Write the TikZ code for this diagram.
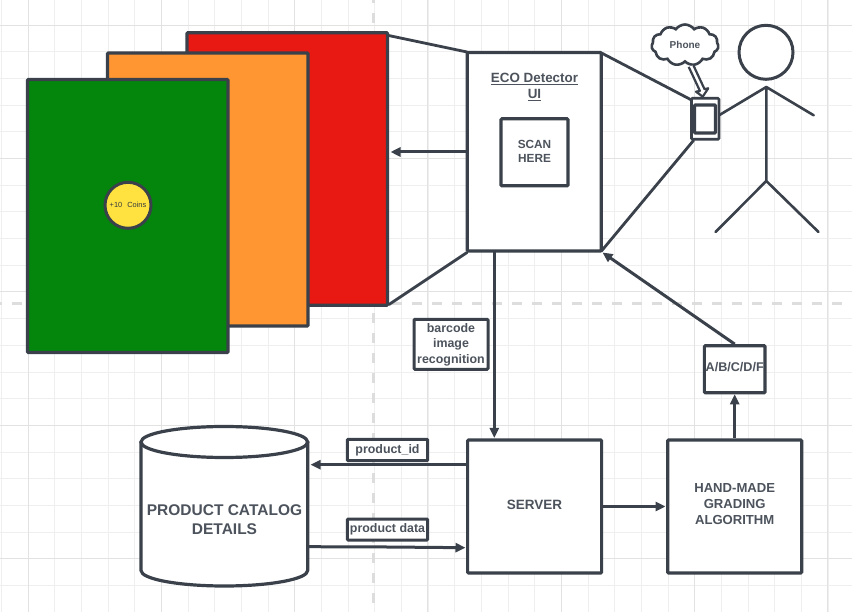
\documentclass[tikz,border=0pt]{standalone}
\usepackage{fontspec}
\setmainfont{Liberation Sans}
\usetikzlibrary{arrows.meta,shapes.symbols}
\definecolor{ink}{HTML}{3A414A}
\definecolor{txt}{HTML}{4C535C}
\definecolor{gridminor}{HTML}{EFEFEF}
\definecolor{gridmajor}{HTML}{E2E2E2}
\definecolor{dashc}{HTML}{DDDDDD}
\definecolor{redc}{HTML}{E81813}
\definecolor{orangec}{HTML}{FF9631}
\definecolor{greenc}{HTML}{04860D}
\definecolor{yellowc}{HTML}{FFE23F}
\newcommand{\fs}[2]{\fontsize{#1}{#2}\selectfont\bfseries}
\tikzset{
  x=1pt,y=-1pt,
  outl/.style={draw=ink,line width=3.2pt,rounded corners=1pt,inner sep=0pt,align=center,text=txt},
  box/.style={outl,fill=white},
  lab/.style={outl,fill=white,line width=3pt},
  card/.style={outl},
  words/.style={inner sep=0pt,text=txt,align=center},
  flow/.style={draw=ink,line width=3pt,-{Triangle[length=10pt,width=9pt]}},
  wire/.style={draw=ink,line width=2.8pt,line cap=round},
  limb/.style={draw=ink,line width=2.6pt,line cap=round},
}
\begin{document}
\begin{tikzpicture}
\useasboundingbox (0,0) rectangle (852,612);
\fill[white] (0,0) rectangle (852,612);
% grid
\foreach \k in {-1,...,32} {
  \pgfmathsetmacro\gx{28+26.67*\k}
  \draw[gridminor,line width=1pt] (\gx,0) -- (\gx,612);
}
\foreach \k in {-1,...,23} {
  \pgfmathsetmacro\gy{25.3+26.67*\k}
  \draw[gridminor,line width=1pt] (0,\gy) -- (852,\gy);
}
\foreach \k in {0,...,6} {
  \pgfmathsetmacro\gx{28+133.33*\k}
  \draw[gridmajor,line width=1pt] (\gx,0) -- (\gx,612);
}
\foreach \k in {0,...,4} {
  \pgfmathsetmacro\gy{25.3+133.33*\k}
  \draw[gridmajor,line width=1pt] (0,\gy) -- (852,\gy);
}
\draw[dashc,line width=3pt,dash pattern=on 10pt off 10pt,dash phase=8.4pt] (0,303.5) -- (852,303.5);
\draw[dashc,line width=3pt,dash pattern=on 10pt off 10pt,dash phase=7pt] (373.5,0) -- (373.5,612);
% cards
\node[card,fill=redc,minimum width=200.5pt,minimum height=272.5pt] (red) at (287.25,169) {};
\node[card,fill=orangec,minimum width=200.5pt,minimum height=273pt] (orange) at (207.75,189.5) {};
\node[card,fill=greenc,minimum width=200.5pt,minimum height=273pt] (green) at (127.75,216) {};
\node[draw=ink,line width=3pt,fill=yellowc,circle,minimum size=46pt,inner sep=0pt,text=ink!85!black,font=\fontsize{7.4}{8}\selectfont] (coin) at (128,205.3)
  {+10\hspace{3pt} Coins};
% boxes
\node[box,minimum width=134pt,minimum height=198.5pt] (eco) at (534.3,151.7) {};
\node[words,font=\fs{13.4}{15.5}] (ecotitle) at (534.5,87)
  {\underline{ECO Detector}\\\underline{UI}};
\node[box,minimum width=67pt,minimum height=67pt] (scan) at (534.5,152.3) {};
\node[words,font=\fs{11.8}{14.5}] (scantext) at (534.5,151.3) {SCAN\\HERE};
\node[box,minimum width=134pt,minimum height=133pt] (server) at (534.6,506.5) {};
\node[words,font=\fs{13.5}{16}] (servertext) at (534.6,505) {SERVER};
\node[box,minimum width=134pt,minimum height=133pt] (algo) at (734.7,506.5) {};
\node[words,font=\fs{13.1}{16}] (algotext) at (734.7,504.3) {HAND-MADE\\GRADING\\ALGORITHM};
\node[box,minimum width=60.7pt,minimum height=47pt] (grade) at (734.7,369.2) {};
\node[words,font=\fs{12.6}{15}] (gradetext) at (734.7,367.5) {A/B/C/D/F};
\node[lab,minimum width=74pt,minimum height=50pt] (barcode) at (451,344.3) {};
\node[words,font=\fs{12.4}{15.5}] (barcodetext) at (451,344.6) {barcode\\image\\recognition};
\node[lab,minimum width=80.4pt,minimum height=21.4pt,font=\fs{12.4}{14}] (pid) at (387.5,450) {product\_id};
\node[lab,minimum width=80.4pt,minimum height=21pt,font=\fs{12.4}{14}] (pdata) at (387.5,529.5) {product data};
% cylinder
\node[minimum width=166.7pt,minimum height=159.5pt,inner sep=0pt] (db) at (224.3,506.4) {};
\draw[ink,line width=3.2pt,fill=white,line join=round]
  (141,442) -- (141,570.5) arc[start angle=180,end angle=360,x radius=83.35pt,y radius=15.5pt] -- (307.7,442) -- cycle;
\draw[ink,line width=3.2pt,fill=white] (224.35,442) ellipse[x radius=83.35pt,y radius=15.5pt];
\node[words,font=\fs{15.5}{19}] (dbtext) at (224.5,519.5) {PRODUCT CATALOG\\DETAILS};
% phone
\node[outl,fill=white,line width=2.6pt,minimum width=27.5pt,minimum height=41pt] (phone) at (705.2,118.8) {};
\node[outl,line width=3.2pt,minimum width=21pt,minimum height=28pt] (screen) at (705,119) {};
% cloud
\node[cloud,cloud puffs=11,cloud puff arc=110,aspect=1.7,draw=ink,line width=2.6pt,fill=white,inner sep=0pt,
  minimum width=67pt,minimum height=41pt,text=txt,font=\fs{10}{12}] (cloud) at (685,45) {Phone};
\draw[ink,line width=2.2pt,fill=white,line join=round]
  (688.7,66.9) -- (699.9,90.9) -- (696,91.7) -- (702.7,96.7) -- (708.3,88.3) -- (704.5,89.1) -- (693.3,65.1);
% person
\node[draw=ink,line width=3pt,circle,fill=white,minimum size=54pt,inner sep=0pt] (head) at (766,52.3) {};
\coordinate (neck) at (766.3,87);
\coordinate (hip) at (766.3,181);
\coordinate (rhand) at (813.7,115.3);
\coordinate (lhand) at (719.5,115);
\coordinate (lfoot) at (715.5,232);
\coordinate (rfoot) at (818.5,232);
\draw[limb] (neck) -- (hip) (neck) -- (rhand) (neck) -- (lhand) (hip) -- (lfoot) (hip) -- (rfoot);
% wires
\coordinate (ecoNE) at (601.5,53);
\coordinate (ecoSE) at (601.5,251);
\coordinate (ecoNW) at (467,52);
\coordinate (ecoSW) at (467,252.5);
\coordinate (redNE) at (388.5,35.5);
\coordinate (redSE) at (389,304.5);
\coordinate (phNW) at (691.5,100);
\coordinate (phSW) at (693.5,140.5);
\draw[wire] (ecoNW) -- (redNE);
\draw[wire] (ecoSW) -- (redSE);
\draw[wire] (ecoNE) -- (phNW);
\draw[wire] (ecoSE) -- (phSW);
% arrows
\coordinate (a1) at (467,152);
\coordinate (a2) at (390.5,152);
\draw[flow] (a1) -- (a2);
\coordinate (b1) at (494.3,252);
\coordinate (b2) at (494.3,438);
\draw[flow] (b1) -- (b2);
\coordinate (c1) at (467,464.7);
\coordinate (c2) at (310.5,464.7);
\draw[flow] (c1) -- (c2);
\coordinate (d1) at (308,546.7);
\coordinate (d2) at (387,547);
\coordinate (d3) at (465.5,547.7);
\draw[flow] (d1) -- (d2) -- (d3);
\coordinate (algoarrive) at (665.5,506.5);
\draw[flow] (server.east) -- (algoarrive);
\draw[flow] (algo.north) -- (grade.south);
\coordinate (ecoarrive) at (602.5,252.5);
\draw[flow] (grade.north) -- (ecoarrive);
\end{tikzpicture}
\end{document}
